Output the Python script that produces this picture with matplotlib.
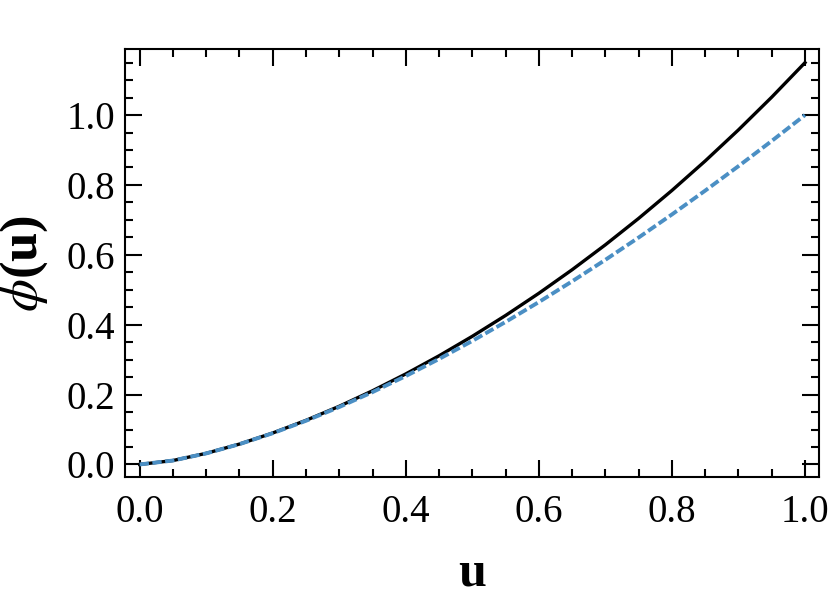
import matplotlib
matplotlib.use("Agg")
import matplotlib.pyplot as plt
from matplotlib.ticker import MultipleLocator

# values
u = [0.00, 0.05, 0.10, 0.15, 0.20, 0.25, 0.30, 0.35, 0.40, 0.45, 0.50,
     0.55, 0.60, 0.65, 0.70, 0.75, 0.80, 0.85, 0.90, 0.95, 1.00]
phi_full = [0.0, 0.0112, 0.0318, 0.0583, 0.0900, 0.1262, 0.1665, 0.2109,
            0.2591, 0.3110, 0.3668, 0.4264, 0.4899, 0.5573, 0.6287, 0.7043,
            0.7842, 0.8686, 0.9576, 1.0513, 1.1500]
phi_approx = [0.0, 0.0112, 0.0316, 0.0581, 0.0894, 0.1250, 0.1643, 0.2071,
              0.2530, 0.3019, 0.3536, 0.4079, 0.4648, 0.5241, 0.5857, 0.6495,
              0.7155, 0.7837, 0.8538, 0.9259, 1.0000]

plt.rcParams['font.family'] = ['Liberation Serif', 'DejaVu Serif']
plt.rcParams['mathtext.fontset'] = 'stix'

fig = plt.figure(figsize=(8.3, 5.98), dpi=100)
ax = fig.add_axes([0.1506, 0.2023, 0.8361, 0.7157])

ax.plot(u, phi_full, color='black', lw=2.4, zorder=2)
ax.plot(u, phi_approx, color='#4b8fc4', lw=2.8, dashes=(2.4, 0.9), zorder=3)

ax.set_xlim(-0.022, 1.021)
ax.set_ylim(-0.036, 1.189)
ax.xaxis.set_major_locator(MultipleLocator(0.2))
ax.xaxis.set_minor_locator(MultipleLocator(0.05))
ax.yaxis.set_major_locator(MultipleLocator(0.2))
ax.yaxis.set_minor_locator(MultipleLocator(0.05))

ax.tick_params(which='both', direction='in', top=True, right=True,
               width=1.5, labelsize=28)
ax.tick_params(which='major', length=12.5)
ax.tick_params(which='minor', length=5.5)
ax.tick_params(axis='x', which='major', pad=12)
ax.tick_params(axis='y', which='major', pad=7)
for s in ax.spines.values():
    s.set_linewidth(1.5)

ax.set_xlabel('u', fontsize=36, fontweight='bold', labelpad=14)
ax.set_ylabel(r'$\phi$(u)', fontsize=38, fontweight='bold', labelpad=12)

fig.savefig('out.png', dpi=100)
